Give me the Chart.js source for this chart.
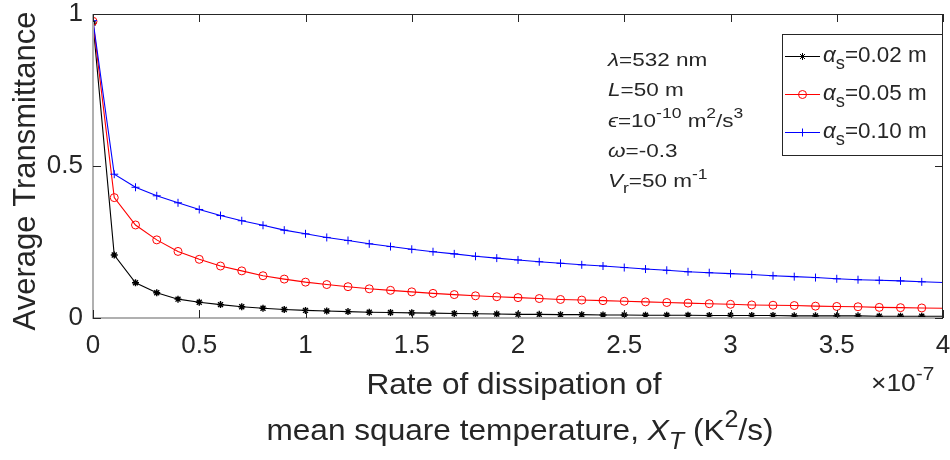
<!DOCTYPE html>
<html>
<head>
<meta charset="utf-8">
<script src="https://cdn.jsdelivr.net/npm/chart.js@4.4.1/dist/chart.umd.min.js"></script>
<style>
  html, body { margin: 0; padding: 0; background: #fff; }
  #wrap { width: 950px; height: 460px; }
</style>
</head>
<body>
<div id="wrap"><canvas id="c" width="950" height="460"></canvas></div>
<script>
// Dissipation rate of mean square temperature, in units of 1e-7 K^2/s
const chiT = [0, 0.1, 0.2, 0.3, 0.4, 0.5, 0.6, 0.7, 0.8, 0.9, 1.0, 1.1, 1.2, 1.3, 1.4, 1.5, 1.6, 1.7, 1.8, 1.9, 2.0,
              2.1, 2.2, 2.3, 2.4, 2.5, 2.6, 2.7, 2.8, 2.9, 3.0, 3.1, 3.2, 3.3, 3.4, 3.5, 3.6, 3.7, 3.8, 3.9, 4.0];

// Average transmittance for each aperture radius alpha_s
const transA002 = [0.970, 0.207, 0.116, 0.083, 0.062, 0.052, 0.044, 0.037, 0.032, 0.028, 0.025, 0.023, 0.021, 0.019,
                   0.018, 0.017, 0.016, 0.015, 0.014, 0.013, 0.012, 0.012, 0.011, 0.011, 0.010, 0.010, 0.009, 0.009,
                   0.009, 0.008, 0.008, 0.008, 0.008, 0.007, 0.007, 0.007, 0.007, 0.006, 0.006, 0.006, 0.006];
const transA005 = [0.976, 0.396, 0.306, 0.257, 0.219, 0.193, 0.171, 0.155, 0.139, 0.128, 0.118, 0.110, 0.103, 0.096,
                   0.091, 0.086, 0.081, 0.077, 0.073, 0.070, 0.067, 0.064, 0.061, 0.059, 0.057, 0.055, 0.053, 0.051,
                   0.049, 0.047, 0.045, 0.043, 0.042, 0.041, 0.039, 0.038, 0.037, 0.035, 0.034, 0.033, 0.032];
const transA010 = [0.978, 0.473, 0.430, 0.402, 0.379, 0.357, 0.337, 0.320, 0.305, 0.289, 0.277, 0.265, 0.255, 0.244,
                   0.235, 0.226, 0.218, 0.211, 0.203, 0.197, 0.191, 0.185, 0.180, 0.175, 0.171, 0.166, 0.161, 0.157,
                   0.152, 0.149, 0.146, 0.143, 0.139, 0.136, 0.133, 0.129, 0.126, 0.124, 0.122, 0.119, 0.117];

const seriesLabels = ['0.02 m', '0.05 m', '0.10 m'];

const xTickValues = [0, 0.5, 1, 1.5, 2, 2.5, 3, 3.5, 4];
const xTickLabels = ['0', '0.5', '1', '1.5', '2', '2.5', '3', '3.5', '4'];
const yTickValues = [0, 0.5, 1];
const yTickLabels = ['0', '0.5', '1'];

const FONT = "'Liberation Sans', Arial, Helvetica, sans-serif";
const TEXT = '#262626';

const styles = [
  { color: '#000000', pointStyle: 'star',   radius: 3.5 },
  { color: '#ff0000', pointStyle: 'circle', radius: 4 },
  { color: '#0000ff', pointStyle: 'cross',  radius: 4 }
];
const seriesValues = [transA002, transA005, transA010];

const lastIdx = chiT.length - 1;
const datasets = seriesValues.map((vals, k) => ({
  label: 'αs=' + seriesLabels[k],
  data: chiT.map((x, i) => ({ x: x, y: vals[i] })),
  borderColor: styles[k].color,
  backgroundColor: 'rgba(0,0,0,0)',
  pointBorderColor: styles[k].color,
  pointBackgroundColor: 'rgba(0,0,0,0)',
  pointStyle: styles[k].pointStyle,
  pointRadius: c => (c.dataIndex === lastIdx ? 0 : styles[k].radius),
  pointBorderWidth: k === 0 ? 1.4 : 1,
  borderWidth: 1.1,
  tension: 0,
  order: 3 - k
}));

// Text helpers: parts are {t, it, sub, sup}
const T = t => ({ t });
const I = t => ({ t, it: true });
const SUB = (t, it) => ({ t, sub: true, it: !!it });
const SUP = t => ({ t, sup: true });

function richText(ctx, parts, x, y, o) {
  const size = o.size, sx = o.sx || 1;
  const fontFor = p => (p.it ? 'italic ' : '') + ((p.sub || p.sup) ? Math.round(size * 0.8) : size) + 'px ' + FONT;
  let w = 0;
  for (const p of parts) { ctx.font = fontFor(p); w += ctx.measureText(p.t).width; }
  const start = o.align === 'center' ? x - w * sx / 2 : x;
  ctx.save();
  ctx.translate(start, y);
  ctx.scale(sx, 1);
  ctx.fillStyle = o.color || TEXT;
  ctx.textAlign = 'left';
  ctx.textBaseline = 'alphabetic';
  let cx = 0;
  for (const p of parts) {
    ctx.font = fontFor(p);
    const dy = p.sub ? size * 0.32 : (p.sup ? -size * 0.45 : 0);
    ctx.fillText(p.t, cx, dy);
    cx += ctx.measureText(p.t).width;
  }
  ctx.restore();
}

// Axes box with inward tick marks
const framePlugin = {
  id: 'frame',
  afterDatasetsDraw(chart) {
    const { ctx, chartArea: a, scales: { x, y } } = chart;
    ctx.save();
    ctx.strokeStyle = '#b0b0b0';
    ctx.lineWidth = 2;
    ctx.beginPath();
    ctx.moveTo(a.left, a.top);
    ctx.lineTo(a.left, a.bottom);
    ctx.lineTo(a.right, a.bottom);
    ctx.stroke();

    ctx.strokeStyle = TEXT;
    ctx.lineWidth = 1;
    ctx.beginPath();
    ctx.moveTo(a.left, Math.round(a.top) + 0.5);
    ctx.lineTo(Math.round(a.right) - 0.5, Math.round(a.top) + 0.5);
    ctx.lineTo(Math.round(a.right) - 0.5, a.bottom);
    ctx.stroke();

    const tl = 8;
    ctx.beginPath();
    for (const v of xTickValues) {
      const px = Math.round(x.getPixelForValue(v)) + 0.5;
      ctx.moveTo(px, a.bottom); ctx.lineTo(px, a.bottom - tl);
      ctx.moveTo(px, a.top); ctx.lineTo(px, a.top + tl);
    }
    for (const v of yTickValues) {
      const py = Math.round(y.getPixelForValue(v)) + 0.5;
      ctx.moveTo(a.left, py); ctx.lineTo(a.left + tl, py);
      ctx.moveTo(a.right, py); ctx.lineTo(a.right - tl, py);
    }
    ctx.stroke();
    ctx.restore();
  }
};

// Axis titles, parameter block, exponent and legend
const textPlugin = {
  id: 'texts',
  afterDraw(chart) {
    const { ctx, chartArea: a } = chart;
    const cx = (a.left + a.right) / 2;

    // y title
    ctx.save();
    ctx.translate(35, (a.top + a.bottom) / 2 + 5);
    ctx.rotate(-Math.PI / 2);
    ctx.font = '31px ' + FONT;
    ctx.fillStyle = TEXT;
    ctx.textAlign = 'center';
    ctx.textBaseline = 'alphabetic';
    ctx.fillText('Average Transmittance', 0, 0);
    ctx.restore();

    // x title, two lines
    richText(ctx, [T('Rate of dissipation of')], cx - 4, 394, { size: 29, sx: 1.09, align: 'center' });
    richText(ctx, [T('mean square temperature, '), I('X'), SUB('T', true), T(' (K'), SUP('2'), T('/s)')],
             cx + 2, 440, { size: 29, sx: 1.09, align: 'center' });

    // exponent of the x axis
    richText(ctx, [T('×10'), SUP('-7')], 871, 391, { size: 24, sx: 1.1 });

    // parameter block
    const px = 608, py0 = 66, dy = 30.25, o = { size: 18, sx: 1.25 };
    richText(ctx, [I('λ'), T('=532 nm')], px, py0, o);
    richText(ctx, [I('L'), T('=50 m')], px, py0 + dy, o);
    richText(ctx, [I('ϵ'), T('=10'), SUP('-10'), T(' m'), SUP('2'), T('/s'), SUP('3')], px, py0 + 2 * dy, o);
    richText(ctx, [I('ω'), T('=-0.3')], px, py0 + 3 * dy, o);
    richText(ctx, [I('V'), SUB('r'), T('=50 m'), SUP('-1')], px, py0 + 4 * dy, o);

    // legend
    const lx = 782, ly = 34, lw = 161, lh = 122;
    ctx.save();
    ctx.fillStyle = '#ffffff';
    ctx.fillRect(lx, ly, lw, lh);
    ctx.strokeStyle = TEXT;
    ctx.lineWidth = 1;
    ctx.strokeRect(lx + 0.5, ly + 0.5, lw - 1, lh - 1);
    chart.data.datasets.forEach((ds, k) => {
      const base = 62 + 38 * k;
      const yl = base - 5.5;
      ctx.strokeStyle = ds.borderColor;
      ctx.lineWidth = 1.1;
      ctx.beginPath();
      ctx.moveTo(785, yl); ctx.lineTo(820, yl);
      ctx.stroke();
      ctx.fillStyle = 'rgba(0,0,0,0)';
      ctx.lineWidth = 1;
      Chart.helpers.drawPoint(ctx, { pointStyle: ds.pointStyle, radius: styles[k].radius, borderWidth: 1, rotation: 0 }, 802.5, yl);
      richText(ctx, [I('α'), SUB('s'), T('=' + seriesLabels[k])], 823, base, { size: 22, sx: 1.02 });
    });
    ctx.restore();
  }
};

new Chart(document.getElementById('c'), {
  type: 'line',
  data: { datasets },
  options: {
    responsive: false,
    devicePixelRatio: 1,
    animation: false,
    layout: { padding: { top: 14, right: 7, left: 0, bottom: 0 } },
    plugins: { legend: { display: false }, tooltip: { enabled: false }, title: { display: false } },
    scales: {
      x: {
        type: 'linear',
        min: 0, max: 4,
        afterBuildTicks: s => { s.ticks = xTickValues.map(v => ({ value: v })); },
        afterFit: s => { s.height = 142; s.paddingLeft = 0; s.paddingRight = 0; },
        grid: { display: false, drawTicks: false },
        border: { display: false },
        ticks: {
          autoSkip: false, maxRotation: 0, padding: 12,
          color: TEXT, font: { family: FONT, size: 26 },
          callback: (v, i) => xTickLabels[i]
        }
      },
      y: {
        type: 'linear',
        min: 0, max: 1,
        afterBuildTicks: s => { s.ticks = yTickValues.map(v => ({ value: v })); },
        afterFit: s => { s.width = 93; s.paddingTop = 0; s.paddingBottom = 0; },
        grid: { display: false, drawTicks: false },
        border: { display: false },
        ticks: {
          padding: 10,
          color: TEXT, font: { family: FONT, size: 26 },
          callback: (v, i) => yTickLabels[i]
        }
      }
    }
  },
  plugins: [framePlugin, textPlugin]
});
</script>
</body>
</html>
